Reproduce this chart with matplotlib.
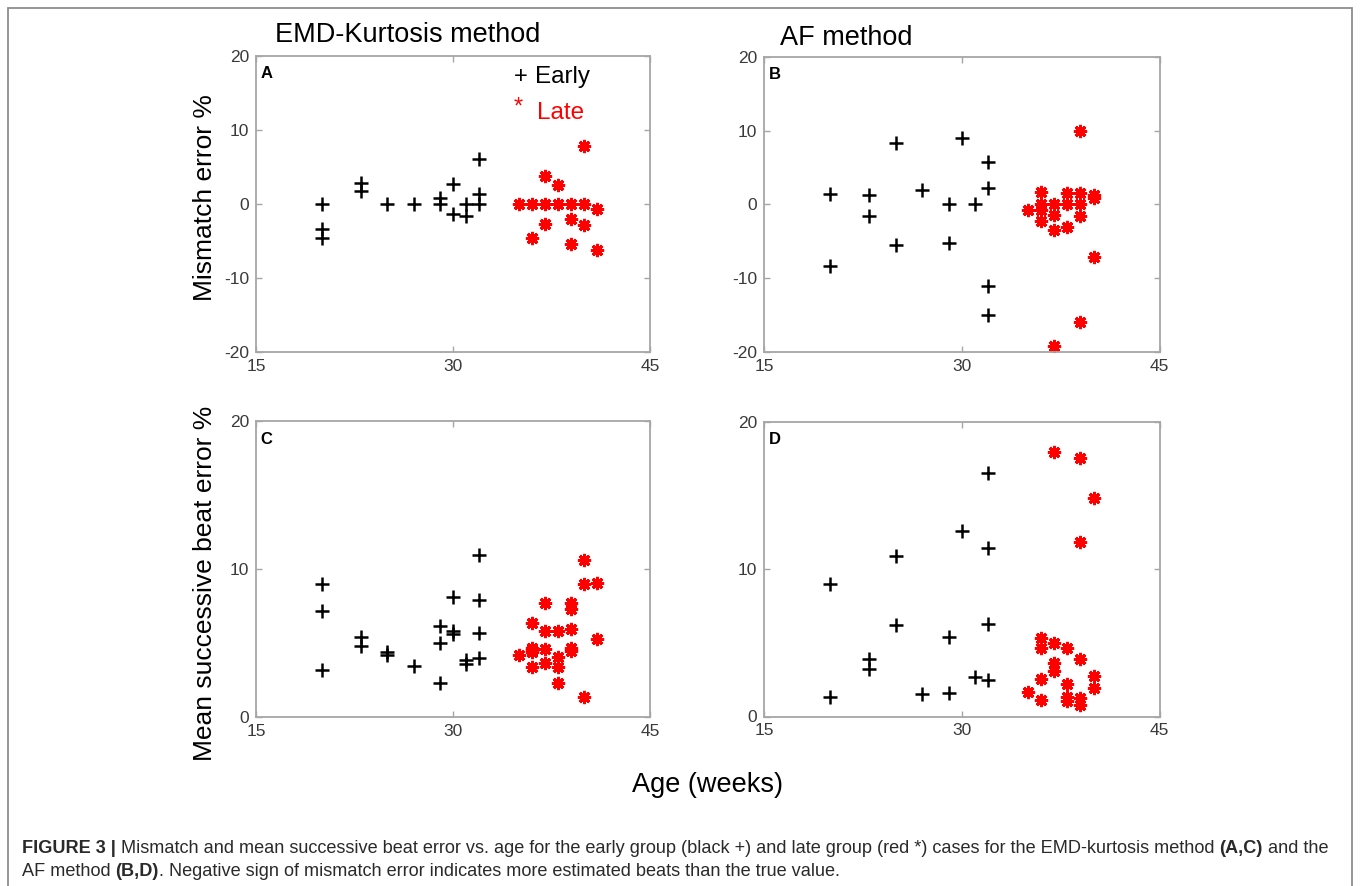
import matplotlib
matplotlib.use("Agg")
import matplotlib.pyplot as plt
from matplotlib.patches import Rectangle

# ---------------- data ----------------
ageA_early = [20, 20, 20, 23, 23, 25, 27, 29, 29, 30, 30, 31, 31, 32, 32, 32]
misA_early = [0, -3.4, -4.7, 2.8, 1.7, 0, 0, 0.8, 0, 2.6, -1.4, 0, -1.6, 6.0, 1.3, 0]
ageA_late = [35, 36, 36, 37, 37, 37, 38, 38, 39, 39, 39, 40, 40, 40, 41, 41]
misA_late = [0, 0, -4.6, 3.8, 0, -2.8, 2.5, 0, 0, -2.1, -5.5, 7.8, 0, -2.9, -0.7, -6.3]

ageB_early = [20, 20, 23, 23, 25, 25, 27, 29, 29, 30, 31, 32, 32, 32, 32]
misB_early = [1.4, -8.4, 1.3, -1.6, 8.3, -5.5, 2.0, 0, -5.3, 9.0, 0, 5.7, 2.2, -11.1, -15.0]
ageB_late = [35, 36, 36, 36, 36, 37, 37, 37, 37, 38, 38, 38, 39, 39, 39, 39, 39, 40, 40, 40]
misB_late = [-0.7, 1.7, 0, -0.7, -2.2, 0, -1.4, -3.5, -19.2, 1.5, 0, -3.1, 10, 1.5, 0, -1.6, -16, 1.3, 0.8, -7.1]

ageC_early = [20, 20, 20, 23, 23, 25, 25, 27, 29, 29, 29, 30, 30, 30, 31, 31, 32, 32, 32, 32]
msbC_early = [9.0, 7.2, 3.2, 5.45, 4.8, 4.4, 4.2, 3.5, 6.2, 5.0, 2.3, 8.1, 5.8, 5.6, 3.9, 3.6, 11.0, 7.9, 5.7, 4.0]
ageC_late = [35, 36, 36, 36, 36, 36, 37, 37, 37, 37, 38, 38, 38, 38, 39, 39, 39, 39, 39, 40, 40, 40, 41, 41]
msbC_late = [4.2, 6.4, 4.7, 4.55, 4.4, 3.4, 7.7, 5.8, 4.6, 3.65, 5.8, 4.05, 3.4, 2.3, 7.75, 7.3, 6.0, 4.7, 4.45,
             10.6, 9.0, 1.4, 9.1, 5.3]

ageD_early = [20, 20, 23, 23, 25, 25, 27, 29, 29, 30, 31, 32, 32, 32, 32]
msbD_early = [9.0, 1.3, 3.9, 3.2, 10.9, 6.2, 1.55, 5.4, 1.6, 12.6, 2.7, 16.5, 11.4, 6.3, 2.5]
ageD_late = [35, 36, 36, 36, 36, 37, 37, 37, 37, 38, 38, 38, 38, 39, 39, 39, 39, 39, 40, 40, 40]
msbD_late = [1.65, 5.3, 4.65, 2.55, 1.15, 17.9, 5.0, 3.6, 3.1, 4.65, 2.2, 1.35, 1.05, 17.5, 11.8, 3.9, 1.25, 0.75,
             14.8, 2.75, 1.9]

x_ticks = [15, 30, 45]
y_ticks_top = [-20, -10, 0, 10, 20]
y_ticks_bottom = [0, 10, 20]
panel_letters = ["A", "B", "C", "D"]

# ---------------- figure ----------------
W, H = 1360, 886
FONT = ["Liberation Sans", "DejaVu Sans"]
plt.rcParams["font.family"] = FONT
plt.rcParams["axes.unicode_minus"] = False
fig = plt.figure(figsize=(W / 100, H / 100), dpi=100)

def px_axes(x0, y0, x1, y1):
    return fig.add_axes([x0 / W, 1 - y1 / H, (x1 - x0) / W, (y1 - y0) / H])

axA = px_axes(256, 55.7, 650, 351.7)
axB = px_axes(764, 57, 1159.5, 351.7)
axC = px_axes(256, 421.3, 650, 717.3)
axD = px_axes(764, 421.5, 1159.5, 716.5)

spine_col = "#a6a6a6"
tick_col = "#3a3a3a"
star = (8, 2, 0)

panels = [
    (axA, ageA_early, misA_early, ageA_late, misA_late, y_ticks_top, (-20, 20)),
    (axB, ageB_early, misB_early, ageB_late, misB_late, y_ticks_top, (-20, 20)),
    (axC, ageC_early, msbC_early, ageC_late, msbC_late, y_ticks_bottom, (0, 20)),
    (axD, ageD_early, msbD_early, ageD_late, msbD_late, y_ticks_bottom, (0, 20)),
]

for (ax, xe, ye, xl, yl, yt, ylim), letter in zip(panels, panel_letters):
    ax.plot(xe, ye, linestyle="none", marker="+", color="black", ms=10, mew=1.8)
    ax.plot(xl, yl, linestyle="none", marker=star, color="#ff0000", ms=9.5, mew=2.1)
    ax.set_xlim(15, 45)
    ax.set_ylim(*ylim)
    ax.set_xticks(x_ticks)
    ax.set_yticks(yt)
    ax.tick_params(direction="in", length=4, width=1, color=spine_col, labelcolor=tick_col,
                   labelsize=12.5, top=True, right=True, pad=5)
    for s in ax.spines.values():
        s.set_color(spine_col)
        s.set_linewidth(1.3)
    ax.text(0.012, 0.965, letter, transform=ax.transAxes, ha="left", va="top",
            fontsize=12, fontweight="bold", color="black")

# legend in panel A (as text)
fig.text(521 / W, 1 - 77 / H, "+", ha="center", va="center", fontsize=17, color="black")
fig.text(535 / W, 1 - 77 / H, "Early", ha="left", va="center", fontsize=17.5, color="black")
fig.text(518 / W, 1 - 108 / H, "*", ha="center", va="center", fontsize=17, color="#ff0000")
fig.text(537 / W, 1 - 113 / H, "Late", ha="left", va="center", fontsize=17.5, color="#ff0000")

# column titles
fig.text(275 / W, 1 - 35 / H, "EMD-Kurtosis method", ha="left", va="center", fontsize=19.5)
fig.text(780 / W, 1 - 38 / H, "AF method", ha="left", va="center", fontsize=19.5)

# axis labels
fig.text(205 / W, 1 - 198 / H, "Mismatch error %", rotation=90, ha="center", va="center", fontsize=19)
fig.text(205 / W, 1 - 583 / H, "Mean successive beat error %", rotation=90, ha="center", va="center",
         fontsize=19)
fig.text(708 / W, 1 - 785 / H, "Age (weeks)", ha="center", va="center", fontsize=19.5)

# outer border
fig.add_artist(Rectangle((8 / W, -0.05), (1352 - 8) / W, 1 - 8 / H + 0.05, transform=fig.transFigure,
                         fill=False, edgecolor="#8c8c8c", linewidth=1.3))

# caption with mixed bold/normal pieces
renderer = fig.canvas.get_renderer()
cap_size = 13.1

def rich_line(x_px, y_px, pieces):
    x = x_px
    for txt, bold in pieces:
        t = fig.text(x / W, 1 - y_px / H, txt, ha="left", va="baseline", fontsize=cap_size,
                     fontweight="bold" if bold else "normal", color="#2a2a2a")
        bb = t.get_window_extent(renderer=renderer)
        x = bb.x1

rich_line(22, 853, [("FIGURE 3 |", True),
                    (" Mismatch and mean successive beat error vs. age for the early group (black +) and late group "
                     "(red *) cases for the EMD-kurtosis method ", False),
                    ("(A,C)", True), (" and the", False)])
rich_line(22, 876, [("AF method ", False), ("(B,D)", True),
                    (". Negative sign of mismatch error indicates more estimated beats than the true value.", False)])

fig.savefig("out.png", dpi=100)
